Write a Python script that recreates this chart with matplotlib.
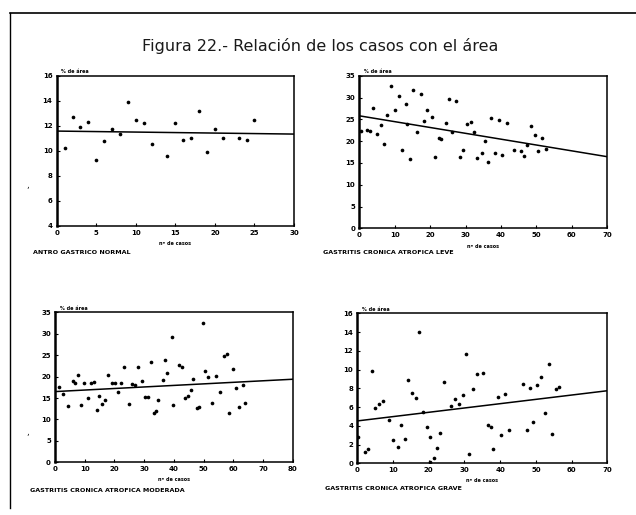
import numpy as np
import matplotlib
matplotlib.use("Agg")
import matplotlib.pyplot as plt
from matplotlib.lines import Line2D

# ---------------- data ----------------
title = "Figura 22.- Relación de los casos con el área"
captions = ["ANTRO GASTRICO NORMAL",
            "GASTRITIS CRONICA ATROFICA LEVE",
            "GASTRITIS CRONICA ATROFICA MODERADA",
            "GASTRITIS CRONICA ATROFICA GRAVE"]
x_label = "nº de casos"
y_label = "% de área"

# Panel 1: antro gastrico normal
p1_x = [1, 2, 3, 4, 5, 6, 7, 8, 9, 10, 11, 12, 14, 15, 16, 17, 18, 19, 20, 21, 23, 24, 25]
p1_y = [10.2, 12.7, 11.9, 12.3, 9.25, 10.8, 11.7, 11.3, 13.9, 12.45, 12.2, 10.5,
        9.6, 12.25, 10.85, 11.0, 13.2, 9.9, 11.75, 11.0, 11.05, 10.85, 12.45]
p1_fit = (11.57, -0.008)
p1_xticks = [0, 5, 10, 15, 20, 25, 30]
p1_yticks = [4, 6, 8, 10, 12, 14, 16]

# Panel 2: leve
p2_x = [0.4, 2.1, 3.0, 4.0, 5.1, 6.0, 7.0, 7.9, 8.9, 10.2, 11.3, 12.1, 13.3, 13.5,
        14.3, 15.2, 16.4, 17.3, 18.25, 19.2, 20.4, 21.4, 22.6, 23.2, 24.4, 25.4,
        26.3, 27.3, 28.4, 29.3, 30.3, 31.4, 32.3, 33.3, 34.5, 35.5, 36.4, 37.2,
        38.3, 39.4, 40.4, 41.6, 43.7, 45.5, 46.5, 47.4, 48.4, 49.6, 50.5, 51.5, 52.6]
p2_y = [22.3, 22.5, 22.4, 27.7, 21.6, 23.8, 19.25, 26.0, 32.6, 27.1, 30.4, 17.95,
        28.5, 23.9, 15.9, 31.7, 22.2, 30.7, 24.6, 27.1, 25.6, 16.3, 20.6, 20.5,
        24.1, 29.6, 22.2, 29.3, 16.3, 17.95, 23.9, 24.3, 22.2, 16.2, 17.3, 20.1,
        15.3, 25.2, 17.3, 24.8, 16.8, 24.1, 17.95, 17.8, 16.6, 19.1, 23.5, 21.5,
        17.8, 20.8, 18.1]
p2_fit = (25.8, -0.134)
p2_xticks = [0, 10, 20, 30, 40, 50, 60, 70]
p2_yticks = [0, 5, 10, 15, 20, 25, 30, 35]

# Panel 3: moderada
p3_x = [1.5, 2.8, 4.5, 5.9, 6.7, 7.9, 8.75, 9.9, 11.0, 12.1, 13.1, 14.0, 14.9, 15.9,
        16.8, 18.0, 19.1, 20.2, 21.1, 22.1, 23.3, 24.9, 25.8, 26.9, 28.1, 29.2,
        30.3, 31.2, 32.3, 33.4, 34.0, 34.8, 36.3, 37.1, 37.8, 39.3, 39.8, 41.8,
        42.9, 43.8, 44.6, 45.7, 46.6, 47.7, 48.3, 49.7, 50.5, 51.6, 52.8, 54.2,
        55.6, 56.9, 57.8, 58.7, 60.0, 60.9, 61.8, 63.2, 64.1]
p3_y = [17.5, 15.9, 13.1, 19.05, 18.4, 20.4, 13.4, 18.4, 14.9, 18.4, 18.8, 12.2,
        15.5, 13.6, 14.5, 20.4, 18.6, 18.6, 16.5, 18.6, 22.2, 13.6, 18.3, 18.0,
        22.3, 19.05, 15.2, 15.3, 23.5, 11.4, 12.05, 14.5, 19.2, 23.9, 20.9, 29.3,
        13.4, 22.7, 22.3, 14.9, 15.5, 16.9, 19.4, 12.6, 12.8, 32.4, 21.3, 20.0,
        13.8, 20.1, 16.3, 24.8, 25.3, 11.4, 21.7, 17.3, 12.8, 18.0, 13.9]
p3_fit = (16.5, 0.036)
p3_xticks = [0, 10, 20, 30, 40, 50, 60, 70, 80]
p3_yticks = [0, 5, 10, 15, 20, 25, 30, 35]

# Panel 4: grave
p4_x = [0.3, 2.1, 3.1, 4.2, 4.9, 6.1, 7.1, 9.0, 10.1, 11.3, 12.2, 13.4, 14.3, 15.4,
        16.3, 17.3, 18.3, 19.4, 20.4, 20.4, 21.5, 22.2, 23.2, 24.4, 26.1, 27.4,
        28.4, 29.5, 30.4, 31.4, 32.3, 33.4, 35.3, 36.5, 37.4, 38.1, 39.3, 40.2,
        41.4, 42.6, 46.3, 47.4, 48.4, 49.3, 50.4, 51.4, 52.6, 53.6, 54.4, 55.6, 56.4]
p4_y = [2.84, 1.24, 1.49, 9.85, 5.94, 6.29, 6.65, 4.62, 2.49, 1.71, 4.09, 2.6,
        8.89, 7.47, 6.93, 14.04, 5.51, 3.84, 2.84, 0.18, 0.6, 1.6, 3.2, 8.71,
        6.12, 6.83, 6.33, 7.29, 11.66, 1.0, 7.93, 9.49, 9.6, 4.09, 3.91, 1.49,
        7.11, 3.02, 7.36, 3.56, 8.43, 3.56, 8.07, 4.44, 8.36, 9.17, 5.4, 10.6,
        3.13, 7.89, 8.18]
p4_fit = (4.52, 0.046)
p4_xticks = [0, 10, 20, 30, 40, 50, 60, 70]
p4_yticks = [0, 2, 4, 6, 8, 10, 12, 14, 16]

# ---------------- figure ----------------
W, H = 636, 515
fig = plt.figure(figsize=(W / 100, H / 100), dpi=100)
fig.patch.set_facecolor("white")

def rect(l, r, t, b):
    return [l / W, 1 - b / H, (r - l) / W, (b - t) / H]

panels = [
    (p1_x, p1_y, p1_fit, p1_xticks, p1_yticks, rect(56.7, 294.0, 75.7, 225.7), (33, 252)),
    (p2_x, p2_y, p2_fit, p2_xticks, p2_yticks, rect(359.3, 607.3, 75.7, 228.3), (323, 253)),
    (p3_x, p3_y, p3_fit, p3_xticks, p3_yticks, rect(55.0, 292.7, 312.3, 462.3), (30, 490)),
    (p4_x, p4_y, p4_fit, p4_xticks, p4_yticks, rect(357.3, 607.3, 313.3, 463.3), (325, 489)),
]

for i, (xs, ys, fit, xt, yt, pos, cap) in enumerate(panels):
    ax = fig.add_axes(pos)
    ax.scatter(xs, ys, s=7, color="black", marker="o", linewidths=0, zorder=3)
    x0, x1 = xt[0], xt[-1]
    lx = np.array([x0, x1])
    ax.plot(lx, fit[0] + fit[1] * lx, color="black", lw=1.1)
    ax.set_xlim(x0, x1)
    ax.set_ylim(yt[0], yt[-1])
    ax.set_xticks(xt)
    ax.set_yticks(yt)
    ax.tick_params(direction="in", length=2.5, width=0.8, labelsize=5, pad=3)
    for lab in ax.get_xticklabels() + ax.get_yticklabels():
        lab.set_fontweight("bold")
    for name, sp in ax.spines.items():
        sp.set_linewidth(1.1)
    ax.spines["left"].set_linewidth(1.8)
    ax.text(0.02, 1.01, y_label, transform=ax.transAxes, fontsize=3.5,
            fontweight="bold", va="bottom", ha="left")
    ax.text(0.5, -0.10, x_label, transform=ax.transAxes, fontsize=3.5,
            fontweight="bold", va="top", ha="center")
    fig.text(cap[0] / W, 1 - cap[1] / H, captions[i], fontsize=4.6,
             fontweight="bold", va="center", ha="left")

fig.text(320 / W, 1 - 46 / H, title, fontsize=11.5, ha="center", va="center",
         color="#1a1a1a")

# scanned page frame
fig.add_artist(Line2D([10 / W, 1.0], [1 - 13 / H, 1 - 13 / H], color="black", lw=1.2))
fig.add_artist(Line2D([10 / W, 10 / W], [1 - 13 / H, 1 - 508 / H], color="black", lw=1.0))
fig.text(28 / W, 1 - 185 / H, ",", fontsize=6, ha="center", va="center")
fig.text(28 / W, 1 - 432 / H, ",", fontsize=6, ha="center", va="center")

fig.savefig("out.png", dpi=100, facecolor="white")
